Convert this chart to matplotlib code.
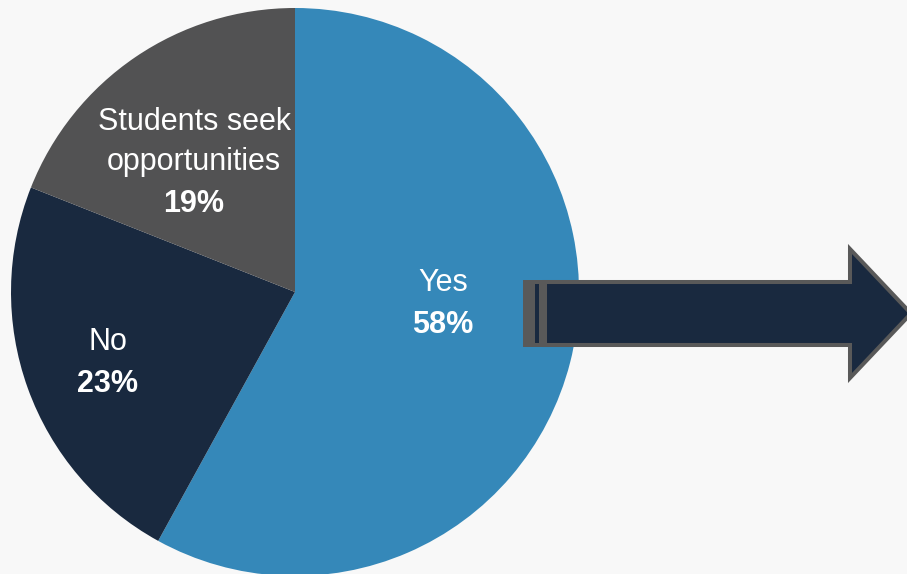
import matplotlib.pyplot as plt
import matplotlib.patches as patches

labels = ['Yes', 'No', 'Students seek\nopportunities']
shares = [58, 23, 19]
colors = ['#3588b9', '#19293f', '#525253']

W, H = 907, 574
BG = '#f8f8f8'
NAVY = '#19293f'
EDGE = '#595959'

plt.rcParams['font.family'] = ['Liberation Sans', 'DejaVu Sans']

fig = plt.figure(figsize=(W / 100, H / 100), dpi=100, facecolor=BG)
ax = fig.add_axes([0, 0, 1, 1])

# pie in pixel units (y flipped, so counterclockwise in data reads clockwise)
wedges, _ = ax.pie(shares, colors=colors, startangle=-90, counterclock=True,
                   center=(295, 292), radius=284, frame=True,
                   wedgeprops=dict(linewidth=0))
ax.set_xlim(0, W)
ax.set_ylim(H, 0)
ax.set_aspect('equal')
ax.axis('off')

# label positions for each slice: (x, first line y)
label_pos = [(443, 283), (108, 342), (194, 122)]
for lab, val, (x, y) in zip(labels, shares, label_pos):
    lines = lab.split('\n')
    for i, ln in enumerate(lines):
        ax.text(x, y + 40 * i, ln, color='white', fontsize=22,
                ha='center', va='center')
    ax.text(x, y + 40 * len(lines) + 2, f'{val}%', color='white', fontsize=22,
            fontweight='bold', ha='center', va='center')

# striped block arrow
ax.add_patch(patches.Rectangle((523, 280), 24, 67, facecolor=EDGE, edgecolor='none', zorder=3))
ax.add_patch(patches.Rectangle((535, 284), 4, 59, facecolor=NAVY, edgecolor='none', zorder=4))
arrow = [(545, 282), (850, 282), (850, 249), (911, 313.5), (850, 378), (850, 345), (545, 345)]
ax.add_patch(patches.Polygon(arrow, closed=True, facecolor=NAVY, edgecolor=EDGE,
                             linewidth=2.9, joinstyle='miter', zorder=3))

fig.savefig('out.png', dpi=100, facecolor=BG)
